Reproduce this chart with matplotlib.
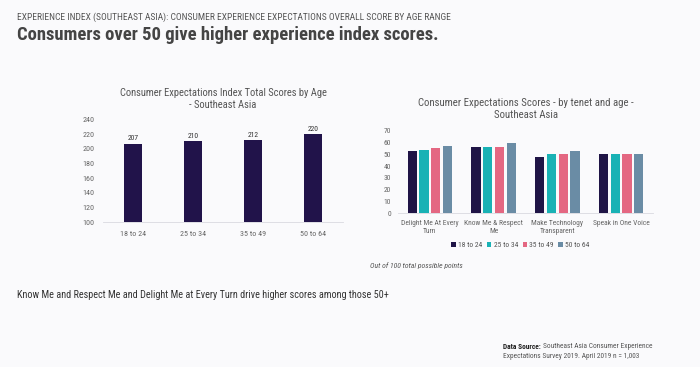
import numpy as np
import matplotlib.pyplot as plt

plt.rcParams['font.family'] = ['Roboto Condensed', 'Lato', 'DejaVu Sans']

# Left chart: total index score by age
ages = ['18 to 24', '25 to 34', '35 to 49', '50 to 64']
total_scores = [207, 210, 212, 220]

# Right chart: score per tenet and age group
tenets = ['Delight Me At Every\nTurn', 'Know Me & Respect\nMe', 'Make Technology\nTransparent', 'Speak in One Voice']
scores_18_24 = [53, 56, 48, 50]
scores_25_34 = [54, 56, 50, 50]
scores_35_49 = [55, 56, 50, 50]
scores_50_64 = [57, 60, 53, 50]

bg = '#fafafc'
navy = '#21134a'
colors = ['#1f1446', '#19b2b5', '#e46782', '#6a8ca5']
tick_col = '#666666'

fig = plt.figure(figsize=(7, 3.67), dpi=100, facecolor=bg)

fig.text(17/700, 1-17/367, 'EXPERIENCE INDEX (SOUTHEAST ASIA): CONSUMER EXPERIENCE EXPECTATIONS OVERALL SCORE BY AGE RANGE',
         fontsize=6.8, color='#555555', va='center', ha='left')
fig.text(17/700, 1-35/367, 'Consumers over 50 give higher experience index scores.',
         fontsize=13.4, fontweight='bold', color='#444444', va='center', ha='left')

# left chart
ax1 = fig.add_axes([103/700, 1-222.3/367, 240/700, 103/367])
ax1.set_facecolor(bg)
x = np.arange(len(ages))
ax1.bar(x, total_scores, width=0.3, color=navy, bottom=0)
for xi, v in zip(x, total_scores):
    ax1.text(xi, v + 3, str(v), ha='center', va='bottom', fontsize=5.5, color='#333333')
ax1.set_ylim(100, 240)
ax1.set_xlim(-0.5, 3.5)
ax1.set_yticks(range(100, 241, 20))
ax1.set_xticks(x)
ax1.set_xticklabels(ages)
ax1.tick_params(length=0, labelsize=5.8, colors=tick_col, pad=6)
for s in ['top', 'right', 'left']:
    ax1.spines[s].set_visible(False)
ax1.spines['bottom'].set_color('#d9d9e0')
ax1.spines['bottom'].set_linewidth(0.6)
ax1.set_title('Consumer Expectations Index Total Scores by Age\n- Southeast Asia',
              fontsize=7.6, color='#555555', pad=8, linespacing=1.25)

# right chart
ax2 = fig.add_axes([398/700, 1-213.3/367, 255/700, 82.6/367])
ax2.set_facecolor(bg)
x2 = np.arange(len(tenets))
series = [scores_18_24, scores_25_34, scores_35_49, scores_50_64]
step = 0.185
for i, (vals, c, lab) in enumerate(zip(series, colors, ages)):
    ax2.bar(x2 + (i - 1.5) * step, vals, width=0.145, color=c, label=lab)
ax2.set_ylim(0, 70)
ax2.set_xlim(-0.5, 3.5)
ax2.set_yticks(range(0, 71, 10))
ax2.set_xticks(x2)
ax2.set_xticklabels(tenets, linespacing=1.2)
ax2.tick_params(length=0, labelsize=5.4, colors=tick_col, pad=5)
for s in ['top', 'right', 'left']:
    ax2.spines[s].set_visible(False)
ax2.spines['bottom'].set_color('#d9d9e0')
ax2.spines['bottom'].set_linewidth(0.6)
ax2.set_title('Consumer Expectations Scores - by tenet and age -\nSoutheast Asia',
              fontsize=7.75, color='#555555', pad=9, linespacing=1.3)
leg = ax2.legend(loc='center', bbox_to_anchor=(0.48, -0.39), ncol=4, frameon=False,
                 fontsize=5.4, handlelength=0.6, handleheight=0.6, handletextpad=0.3,
                 columnspacing=0.6, labelcolor='#555555')

fig.text(370/700, 1-266/367, 'Out of 100 total possible points', fontsize=5.5, style='italic',
         color='#555555', va='center', ha='left')

fig.text(17/700, 1-295/367, 'Know Me and Respect Me and Delight Me at Every Turn drive higher scores among those 50+',
         fontsize=7.3, color='#333333', va='center', ha='left')

ds = fig.text(503/700, 1-347/367, 'Data Source:', fontsize=5.3, fontweight='bold', color='#222222',
              va='center', ha='left')
fig.canvas.draw()
bb = ds.get_window_extent()
fig.text((bb.x1 + 2) / 700, 1-347/367, 'Southeast Asia Consumer Experience',
         fontsize=5.3, color='#555555', va='center', ha='left')
fig.text(503/700, 1-357/367, 'Expectations Survey 2019. April 2019 n = 1,003',
         fontsize=5.3, color='#555555', va='center', ha='left')

fig.savefig('out.png', dpi=100, facecolor=bg)
